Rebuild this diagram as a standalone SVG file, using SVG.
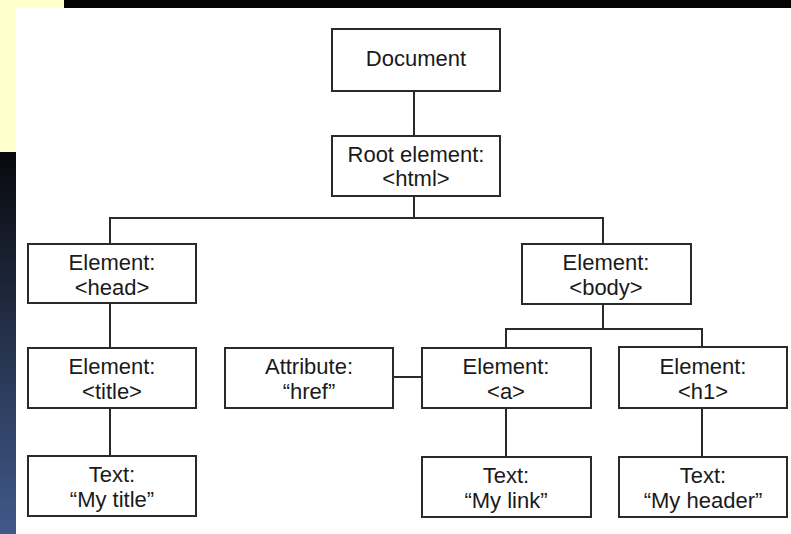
<svg xmlns="http://www.w3.org/2000/svg" width="791" height="534" viewBox="0 0 791 534">
<defs>
<linearGradient id="side" x1="0" y1="0" x2="0" y2="1">
<stop offset="0" stop-color="#08090d"/>
<stop offset="0.5" stop-color="#25324c"/>
<stop offset="1" stop-color="#41598a"/>
</linearGradient>
<style>
.box{fill:#ffffff;stroke:#2a2a2a;stroke-width:2}
.lbl{font-family:"Liberation Sans",Arial,sans-serif;font-size:22px;fill:#1a1a1a;text-anchor:middle}
.conn{stroke:#2a2a2a;stroke-width:2;fill:none}
</style>
</defs>
<rect x="0" y="0" width="791" height="534" fill="#ffffff"/>
<rect x="0" y="0" width="791" height="8" fill="#050505"/>
<rect x="0" y="0" width="64" height="8" fill="#ffffcc"/>
<rect x="0" y="8" width="16" height="144" fill="#ffffcc"/>
<rect x="0" y="152" width="16" height="382" fill="url(#side)"/>
<g id="connectors" class="conn">
<path d="M414,91V136"/>
<path d="M414,196V218M110,244V218H603V244"/>
<path d="M110,303V348"/>
<path d="M110,408V456"/>
<path d="M603,304V329M506,348V329H702V347"/>
<path d="M393,377H422"/>
<path d="M506,408V457"/>
<path d="M702,408V457"/>
</g>
<g id="document"><rect class="box" x="332" y="29" width="168" height="62"/><text class="lbl" x="416" y="66">Document</text></g>
<g id="root"><rect class="box" x="332" y="136" width="168" height="60"/><text class="lbl" x="416" y="162">Root element:</text><text class="lbl" x="416" y="186">&lt;html&gt;</text></g>
<g id="head"><rect class="box" x="28" y="244" width="168" height="59"/><text class="lbl" x="112" y="270">Element:</text><text class="lbl" x="112" y="295">&lt;head&gt;</text></g>
<g id="body"><rect class="box" x="522" y="244" width="169" height="60"/><text class="lbl" x="606" y="270">Element:</text><text class="lbl" x="606" y="295">&lt;body&gt;</text></g>
<g id="title"><rect class="box" x="28" y="348" width="168" height="60"/><text class="lbl" x="112" y="374">Element:</text><text class="lbl" x="112" y="399">&lt;title&gt;</text></g>
<g id="attribute"><rect class="box" x="225" y="348" width="168" height="60"/><text class="lbl" x="309" y="374">Attribute:</text><text class="lbl" x="309" y="399">“href”</text></g>
<g id="a"><rect class="box" x="422" y="348" width="169" height="60"/><text class="lbl" x="506" y="374">Element:</text><text class="lbl" x="506" y="399">&lt;a&gt;</text></g>
<g id="h1"><rect class="box" x="619" y="347" width="168" height="61"/><text class="lbl" x="703" y="374">Element:</text><text class="lbl" x="703" y="399">&lt;h1&gt;</text></g>
<g id="text-title"><rect class="box" x="28" y="456" width="168" height="60"/><text class="lbl" x="112" y="482">Text:</text><text class="lbl" x="112" y="507">“My title”</text></g>
<g id="text-link"><rect class="box" x="422" y="457" width="169" height="60"/><text class="lbl" x="506" y="483">Text:</text><text class="lbl" x="506" y="508">“My link”</text></g>
<g id="text-header"><rect class="box" x="619" y="457" width="168" height="60"/><text class="lbl" x="703" y="483">Text:</text><text class="lbl" x="703" y="508">“My header”</text></g>
</svg>
